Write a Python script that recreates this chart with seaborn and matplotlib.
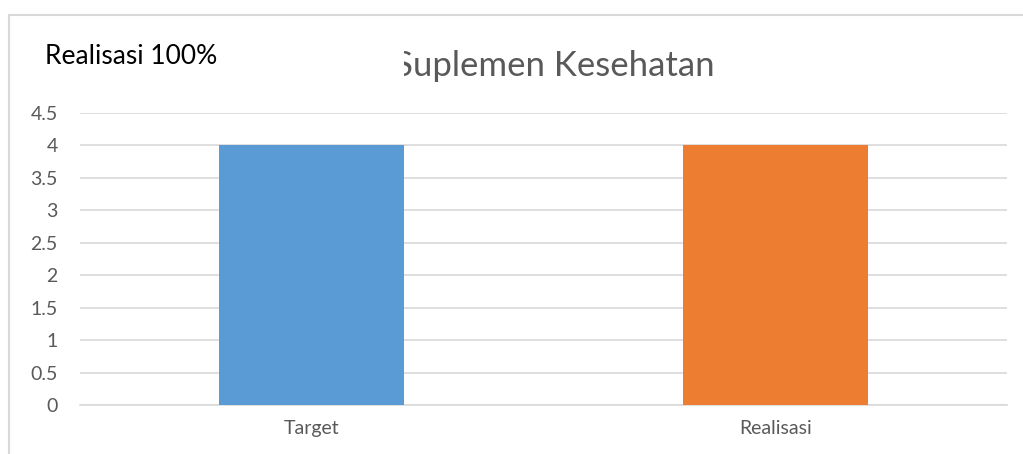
import matplotlib
matplotlib.use("Agg")
import matplotlib.pyplot as plt
import seaborn as sns
import pandas as pd
from matplotlib.patches import Rectangle

categories = ["Target", "Realisasi"]
values = [4, 4]
bar_colors = ["#5B9BD5", "#ED7D31"]
y_ticks = [0, 0.5, 1, 1.5, 2, 2.5, 3, 3.5, 4, 4.5]
y_labels = ["0", "0.5", "1", "1.5", "2", "2.5", "3", "3.5", "4", "4.5"]
title = "Suplemen Kesehatan"
note = "Realisasi 100%"

sns.set_theme(style="white")
plt.rcParams['font.family'] = ['Lato', 'DejaVu Sans']

df = pd.DataFrame({"kategori": categories, "nilai": values})

fig = plt.figure(figsize=(10.23, 4.54), dpi=100)
ax = fig.add_axes([80 / 1023, 1 - 405 / 454, 927 / 1023, 292 / 454])

sns.barplot(data=df, x="kategori", y="nilai", hue="kategori",
            palette=bar_colors, width=0.4, saturation=1, legend=False,
            linewidth=0, ax=ax, zorder=3)

ax.set_ylim(0, 4.5)
ax.set_yticks(y_ticks)
ax.set_yticklabels(y_labels)
ax.yaxis.grid(True, color="#D9D9D9", linewidth=1.2, zorder=0)
ax.set_axisbelow(True)
ax.set_xlabel("")
ax.set_ylabel("")
for s in ["top", "right", "left"]:
    ax.spines[s].set_visible(False)
ax.spines["bottom"].set_color("#D9D9D9")
ax.spines["bottom"].set_linewidth(1.2)
ax.tick_params(axis="both", length=0, colors="#595959", labelsize=14)
ax.tick_params(axis="y", pad=16)
ax.tick_params(axis="x", pad=11)

# outer chart frame (left and top edges visible)
fig.add_artist(plt.Line2D([9 / 1023, 9 / 1023], [0, 1 - 15 / 454], color="#D9D9D9", linewidth=1.5))
fig.add_artist(plt.Line2D([9 / 1023, 1], [1 - 15 / 454, 1 - 15 / 454], color="#D9D9D9", linewidth=1.5))

fig.text(554 / 1023, 1 - 66 / 454, title, ha="center", va="center", fontsize=25, color="#595959")

# white note box covering the start of the title
fig.add_artist(Rectangle((30 / 1023, 1 - 92 / 454), (404 - 30) / 1023, 62 / 454,
                         transform=fig.transFigure, facecolor="white", edgecolor="none", zorder=5))
fig.text(45 / 1023, 1 - 57 / 454, note, ha="left", va="center", fontsize=19, color="black", zorder=6)

fig.savefig("out.png", dpi=100)
